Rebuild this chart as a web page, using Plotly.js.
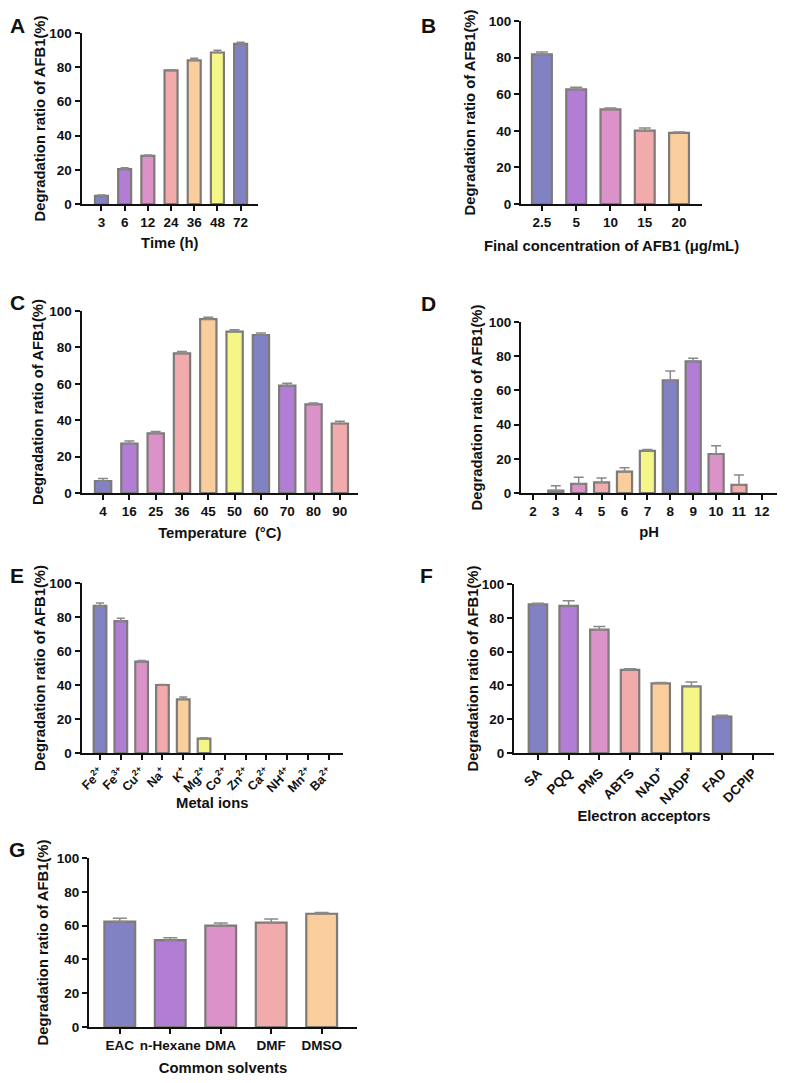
<!DOCTYPE html>
<html>
<head>
<meta charset="utf-8">
<script src="https://cdn.plot.ly/plotly-3.0.1.min.js"></script>
<style>html,body{margin:0;padding:0;background:#fff;}#chart{width:787px;height:1083px;}</style>
</head>
<body>
<div id="chart"></div>
<script>
// ---- data ----
const timeCats = ['3','6','12','24','36','48','72'];
const timeVals = [4.8, 20.4, 28.1, 78.1, 84.0, 88.6, 93.6];
const timeErr  = [0.5, 0.8, 0.5, 0.4, 1.2, 1.3, 1.0];

const concCats = ['2.5','5','10','15','20'];
const concVals = [81.8, 62.6, 51.7, 40.1, 38.9];
const concErr  = [1.3, 1.2, 0.8, 1.4, 0.4];

const tempCats = ['4','16','25','36','45','50','60','70','80','90'];
const tempVals = [6.6, 27.2, 32.8, 76.7, 95.5, 88.7, 86.8, 59.0, 48.7, 38.2];
const tempErr  = [1.3, 1.4, 1.0, 1.1, 1.0, 1.0, 1.1, 1.3, 0.7, 1.2];

const phCats = ['2','3','4','5','6','7','8','9','10','11','12'];
const phVals = [0, 1.4, 5.3, 6.2, 12.5, 24.6, 65.9, 77.0, 22.8, 4.7, 0];
const phErr  = [0, 2.9, 3.9, 2.6, 2.3, 0.9, 5.4, 1.8, 4.9, 5.8, 0];

const ionCats = ['Fe<sup>2+</sup>','Fe<sup>3+</sup>','Cu<sup>2+</sup>','Na<sup>+</sup>','K<sup>+</sup>','Mg<sup>2+</sup>','Co<sup>2+</sup>','Zn<sup>2+</sup>','Ca<sup>2+</sup>','NH<sup>4+</sup>','Mn<sup>2+</sup>','Ba<sup>2+</sup>'];
const ionVals = [86.5, 77.6, 53.7, 40.0, 31.6, 8.4, 0, 0, 0, 0, 0, 0];
const ionErr  = [1.8, 1.6, 0.7, 0.3, 1.4, 0.5, 0, 0, 0, 0, 0, 0];

const accCats = ['SA','PQQ','PMS','ABTS','NAD<sup>+</sup>','NADP<sup>+</sup>','FAD','DCPIP'];
const accVals = [88.0, 87.1, 73.0, 49.2, 41.2, 39.4, 21.6, 0];
const accErr  = [0.6, 3.0, 1.8, 0.6, 0.5, 2.6, 0.7, 0];

const solvCats = ['EAC','n-Hexane','DMA','DMF','DMSO'];
const solvVals = [62.4, 51.4, 60.0, 61.8, 67.0];
const solvErr  = [2.0, 1.4, 1.5, 2.1, 0.8];

const yTitle = 'Degradation ratio of AFB1(%)';
const palette = ['#8182C3','#B17DD5','#DA92C9','#F1ABAD','#F9CD9C','#F5F688'];

// ---- layout helpers ----
const W = 787, H = 1083;
const FONT = 'Liberation Sans, Arial, Helvetica, sans-serif';
function px(x){ return x / W; }
function py(y){ return 1 - y / H; }

const panels = [
  {key:'A', cats:timeCats, vals:timeVals, err:timeErr, xt:'Time (h)', box:[81.5,258,33,204], xr:[-0.86,6.75], bw:0.56, cap:4, ystand:0, xstand:8, label:[17,25], tickangle:0, tfs:13.5},
  {key:'B', cats:concCats, vals:concVals, err:concErr, xt:'Final concentration of AFB1 (μg/mL)', box:[521,702,21,204], xr:[-0.61,4.67], bw:0.58, cap:6, ystand:10, xstand:11, label:[428,26], tickangle:0, tfs:13.5},
  {key:'C', cats:tempCats, vals:tempVals, err:tempErr, xt:'Temperature  (°C)', box:[81.5,358,311,493], xr:[-0.82,9.69], bw:0.62, cap:5, ystand:2, xstand:9, label:[17,302], tickangle:0, tfs:13.5},
  {key:'D', cats:phCats, vals:phVals, err:phErr, xt:'pH', box:[521,777,322,493], xr:[-0.52,10.66], bw:0.66, cap:5, ystand:3, xstand:8, label:[428,303], tickangle:0, tfs:13.5},
  {key:'E', cats:ionCats, vals:ionVals, err:ionErr, xt:'Metal ions', box:[81.5,343,583,753], xr:[-0.89,11.68], bw:0.61, cap:4, ystand:0, xstand:2, label:[17,575], tickangle:-45, tfs:12.5},
  {key:'F', cats:accCats, vals:accVals, err:accErr, xt:'Electron acceptors', box:[514,774,584,753], xr:[-0.78,7.69], bw:0.6, cap:6, ystand:0, xstand:4, label:[427,575], tickangle:-45, tfs:13.5},
  {key:'G', cats:solvCats, vals:solvVals, err:solvErr, xt:'Common solvents', box:[89,357,858,1027], xr:[-0.61,4.70], bw:0.61, cap:7, ystand:5, xstand:10, label:[17,849], tickangle:0, tfs:13.5}
];

const data = [];
const layout = {
  width: W, height: H,
  margin: {l:0, r:0, t:0, b:0},
  paper_bgcolor: '#ffffff', plot_bgcolor: '#ffffff',
  showlegend: false,
  font: {family: FONT, color: '#111111', weight: 'bold'},
  annotations: []
};

panels.forEach((p, i) => {
  const n = i + 1;
  const xa = n === 1 ? 'x' : 'x' + n;
  const ya = n === 1 ? 'y' : 'y' + n;
  const xkey = n === 1 ? 'xaxis' : 'xaxis' + n;
  const ykey = n === 1 ? 'yaxis' : 'yaxis' + n;
  const idx = p.cats.map((c, k) => k);
  data.push({
    type: 'bar',
    x: idx, y: p.vals,
    xaxis: xa, yaxis: ya,
    width: p.bw,
    marker: {
      color: idx.map(k => palette[k % palette.length]),
      line: {color: '#7d7a78', width: p.vals.map(v => v > 0 ? 2.2 : 0)}
    },
    error_y: {
      type: 'data', symmetric: false,
      array: p.err.map((e, k) => p.vals[k] > 0 ? e : NaN),
      arrayminus: p.vals.map(v => v > 0 ? 0 : NaN),
      color: '#8a8888', thickness: 1.5, width: p.cap
    },
    hoverinfo: 'x+y'
  });
  layout[xkey] = {
    domain: [px(p.box[0]), px(p.box[1])],
    anchor: ya,
    range: p.xr,
    tickmode: 'array', tickvals: idx, ticktext: p.cats,
    tickangle: p.tickangle,
    ticks: 'outside', ticklen: 5, tickwidth: 2, tickcolor: '#111',
    showline: true, linecolor: '#111', linewidth: 2,
    showgrid: false, zeroline: false, fixedrange: true,
    tickfont: {family: FONT, size: p.tfs, color: '#111', weight: 'bold'},
    title: {text: p.xt, standoff: p.xstand, font: {family: FONT, size: 14.8, color: '#111', weight: 'bold'}}
  };
  layout[ykey] = {
    domain: [py(p.box[3]), py(p.box[2])],
    anchor: xa,
    range: [0, 100],
    tickvals: [0, 20, 40, 60, 80, 100],
    ticks: 'outside', ticklen: 5, tickwidth: 2, tickcolor: '#111',
    showline: true, linecolor: '#111', linewidth: 2,
    showgrid: false, zeroline: false, fixedrange: true,
    tickfont: {family: FONT, size: 13.5, color: '#111', weight: 'bold'},
    title: {text: yTitle, standoff: p.ystand, font: {family: FONT, size: 14.8, color: '#111', weight: 'bold'}}
  };
  layout.annotations.push({
    xref: 'paper', yref: 'paper', x: px(p.label[0]), y: py(p.label[1]),
    xanchor: 'center', yanchor: 'middle', showarrow: false,
    text: p.key, font: {family: FONT, size: 21, color: '#111', weight: 'bold'}
  });
});

Plotly.newPlot('chart', data, layout, {displayModeBar: false, staticPlot: true});
</script>
</body>
</html>
